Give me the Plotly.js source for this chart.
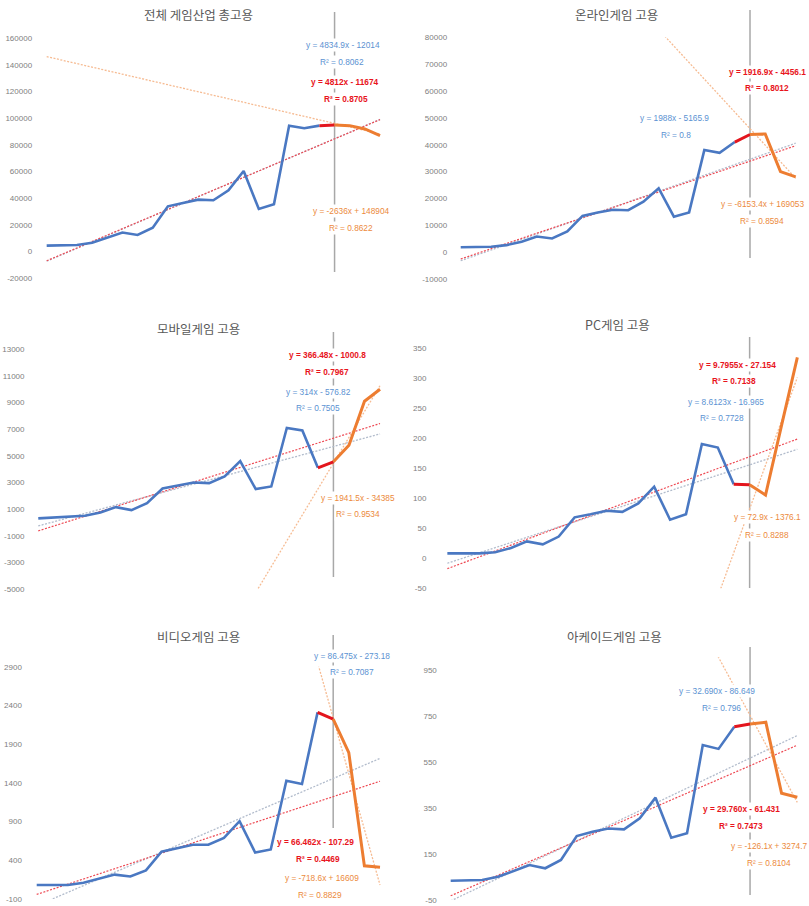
<!DOCTYPE html>
<html><head><meta charset="utf-8">
<script src="https://cdn.plot.ly/plotly-3.0.1.min.js"></script>
<style>html,body{margin:0;padding:0;background:#fff}#chart{width:809px;height:906px}</style>
</head><body><div id="chart"></div>
<script>
// ---------------- DATA ----------------
const periods = [1,2,3,4,5,6,7,8,9,10,11,12,13,14,15,16,17,18,19,20,21,22,23];
const lastActual = 19;     // blue series ends / red segment starts
const forecastStart = 20;  // red segment ends / orange forecast starts

const titles = ['전체 게임산업 총고용','온라인게임 고용','모바일게임 고용','PC게임 고용','비디오게임 고용','아케이드게임 고용'];

const totalEmp  = [4500,4500,5000,6700,10500,14300,12500,18000,34000,36500,39000,38500,46000,60500,32000,35500,94500,92500,94500,95000,94500,92000,87000];
const onlineEmp = [1800,1800,2000,2600,3900,5800,5100,7700,13500,14800,15800,15600,18800,23800,13200,14800,38000,37000,41000,43800,44000,30000,28000];
const mobileEmp = [300,350,400,500,750,1150,925,1450,2550,2750,3000,2950,3450,4600,2500,2700,7100,6900,4100,4550,5800,9100,10000];
const pcEmp     = [8,8,8,10,17,28,23,36,68,73,79,77,91,119,64,73,190,184,123,122,105,220,334];
const videoEmp  = [80,80,80,110,160,215,190,270,510,555,600,600,690,905,500,540,1428,1386,2310,2222,1790,328,309];
const arcadeEmp = [34,34,37,51,78,102,88,124,228,247,261,257,305,395,221,240,624,607,703,715,723,414,397];

// trend line coefficients (y = slope * x + intercept) and labels
const blueSlope   = [4834.9, 1988, 314, 8.6123, 86.475, 32.690];
const blueInt     = [-12014, -5165.9, -576.82, -16.965, -273.18, -86.649];
const redSlope    = [4812, 1916.9, 366.48, 9.7955, 66.462, 29.760];
const redInt      = [-11674, -4456.1, -1000.8, -27.154, -107.29, -61.431];
const orangeSlope = [-2636, -6153.4, 1941.5, 72.9, -718.6, -126.1];
const orangeInt   = [148904, 169053, -34385, -1376.1, 16609, 3274.7];

const blueEq   = ['y = 4834.9x - 12014','y = 1988x - 5165.9','y = 314x - 576.82','y = 8.6123x - 16.965','y = 86.475x - 273.18','y = 32.690x - 86.649'];
const redEq    = ['y = 4812x - 11674','y = 1916.9x - 4456.1','y = 366.48x - 1000.8','y = 9.7955x - 27.154','y = 66.462x - 107.29','y = 29.760x - 61.431'];
const orangeEq = ['y = -2636x + 148904','y = -6153.4x + 169053','y = 1941.5x - 34385','y = 72.9x - 1376.1','y = -718.6x + 16609','y = -126.1x + 3274.7'];
const blueR2   = ['R² = 0.8062','R² = 0.8','R² = 0.7505','R² = 0.7728','R² = 0.7087','R² = 0.796'];
const redR2    = ['R² = 0.8705','R² = 0.8012','R² = 0.7967','R² = 0.7138','R² = 0.4469','R² = 0.7473'];
const orangeR2 = ['R² = 0.8622','R² = 0.8594','R² = 0.9534','R² = 0.8288','R² = 0.8829','R² = 0.8104'];

const series = [totalEmp, onlineEmp, mobileEmp, pcEmp, videoEmp, arcadeEmp];

// ---------------- LAYOUT (pixels) ----------------
const W = 809, H = 906;
const geo = [
  {x0:39.1, x1:387.6, top:38.3, bot:278.3, r:[-20000,160000], t0:-20000, dt:20000, so:6,
   title:[198,15], bE:[343,45], bR:[342,62], rE:[345,82], rR:[346,99], oE:[351,211], oR:[351,228], v:[12,272]},
  {x0:453.1, x1:803.3, top:37.3, bot:279, r:[-10000,80000], t0:-10000, dt:10000, so:5,
   title:[616,15], bE:[674,118], bR:[676,135], rE:[767,72], rR:[767,88], oE:[762,204], oR:[762,221], v:[10,258]},
  {x0:30.5, x1:387.8, top:349.3, bot:589, r:[-5000,13000], t0:-5000, dt:2000, so:5,
   title:[198,328], bE:[318,392], bR:[318,408], rE:[327,355], rR:[327,372], oE:[358,498], oR:[358,514], v:[332,577]},
  {x0:439.4, x1:805.3, top:347.7, bot:588.3, r:[-50,350], t0:-50, dt:50, so:12,
   title:[617,325], bE:[726,402], bR:[722,418], rE:[737,365], rR:[734,381], oE:[767,517], oR:[767,535], v:[337,588]},
  {x0:28.9, x1:387.8, top:666.7, bot:899, r:[-100,2900], t0:-100, dt:500, so:6,
   title:[198,636], bE:[352,656], bR:[352,672], rE:[315,842], rR:[318,859], oE:[322,878], oR:[320,895], v:[635,828]},
  {x0:442.8, x1:805.2, top:657.35, bot:900, r:[-50,1005], t0:-50, dt:200, so:5,
   title:[614,636], bE:[717,691], bR:[721,708], rE:[741,809], rR:[741,826], oE:[769,846], oR:[769,863], v:[647,895]}
];

const C_BLUE = '#4a78c2', C_RED = '#e3151d', C_ORANGE = '#ed7d31';
const T_BLUE = '#5b92d2', T_RED = '#e8141c', T_ORANGE = '#ec8a3c';
const SANS = '"Liberation Sans", Arial, sans-serif';

const traces = [];
const layout = {
  width: W, height: H, margin:{l:0,r:0,t:0,b:0},
  paper_bgcolor:'#ffffff', plot_bgcolor:'#ffffff', showlegend:false,
  annotations: [], shapes: []
};

function px2x(p){ return p / W; }
function px2y(p){ return 1 - p / H; }

series.forEach((vals, i) => {
  const g = geo[i];
  const n = i + 1;
  const xa = 'x' + (n === 1 ? '' : n), ya = 'y' + (n === 1 ? '' : n);
  const xk = 'xaxis' + (n === 1 ? '' : n), yk = 'yaxis' + (n === 1 ? '' : n);

  const tv = [];
  for (let v = g.t0; v <= g.r[1] + 1e-9; v += g.dt) tv.push(v);

  layout[xk] = {domain:[px2x(g.x0), px2x(g.x1)], range:[0.5, periods.length + 0.5],
    showticklabels:false, showgrid:false, zeroline:false, showline:false, ticks:'', anchor: ya, fixedrange:true};
  layout[yk] = {domain:[px2y(g.bot), px2y(g.top)], range:g.r, tickvals:tv, ticktext:tv.map(v => String(v)),
    showgrid:false, zeroline:false, showline:false, ticks:'', anchor: xa, fixedrange:true,
    ticklabelstandoff: g.so, tickfont:{family:SANS, size:8, color:'#808080'}};

  const xFirst = periods[0], xLast = periods[periods.length - 1];
  const trend = (m, b, color, w) => ({
    x:[xFirst, xLast], y:[m * xFirst + b, m * xLast + b], xaxis:xa, yaxis:ya,
    mode:'lines', line:{color:color, width:w, dash:'2px,1.5px'}, hoverinfo:'skip'
  });
  traces.push(trend(blueSlope[i], blueInt[i], '#b2bccc', 1.3));
  traces.push(trend(redSlope[i], redInt[i], '#ee4a54', 1.2));
  traces.push(trend(orangeSlope[i], orangeInt[i], '#f6bb92', 1.3));

  const iA = periods.indexOf(lastActual), iF = periods.indexOf(forecastStart);
  traces.push({x:periods.slice(0, iA + 1), y:vals.slice(0, iA + 1), xaxis:xa, yaxis:ya,
    mode:'lines', line:{color:C_BLUE, width:2.6}, hoverinfo:'skip'});
  traces.push({x:periods.slice(iA, iF + 1), y:vals.slice(iA, iF + 1), xaxis:xa, yaxis:ya,
    mode:'lines', line:{color:C_RED, width:3}, hoverinfo:'skip'});
  traces.push({x:periods.slice(iF), y:vals.slice(iF), xaxis:xa, yaxis:ya,
    mode:'lines', line:{color:C_ORANGE, width:3}, hoverinfo:'skip'});

  // vertical divider at forecast start
  const unit = (g.x1 - g.x0) / periods.length;
  const vx = g.x0 + (forecastStart - 0.5) * unit;
  layout.shapes.push({type:'line', xref:'paper', yref:'paper', layer:'below',
    x0:px2x(vx), x1:px2x(vx), y0:px2y(g.v[0]), y1:px2y(g.v[1]),
    line:{color:'#a8a8a8', width:1.5}});

  const ann = (pos, text, color, bold) => layout.annotations.push({
    xref:'paper', yref:'paper', x:px2x(pos[0]), y:px2y(pos[1]), xanchor:'center', yanchor:'middle',
    text: bold ? '<b>' + text + '</b>' : text, showarrow:false, bgcolor:'#ffffff', borderpad:1,
    font:{family:SANS, size:8.3, color:color}
  });
  layout.annotations.push({xref:'paper', yref:'paper', x:px2x(g.title[0]), y:px2y(g.title[1]),
    xanchor:'center', yanchor:'middle', showarrow:false, text:titles[i],
    font:{family:'"Noto Sans CJK KR", "Noto Sans", sans-serif', size:12.5, color:'#595959'}});
  ann(g.bE, blueEq[i], T_BLUE, false);
  ann(g.bR, blueR2[i], T_BLUE, false);
  ann(g.rE, redEq[i], T_RED, true);
  ann(g.rR, redR2[i], T_RED, true);
  ann(g.oE, orangeEq[i], T_ORANGE, false);
  ann(g.oR, orangeR2[i], T_ORANGE, false);
});

Plotly.newPlot('chart', traces, layout, {displayModeBar:false, staticPlot:true});
</script>
</body></html>
